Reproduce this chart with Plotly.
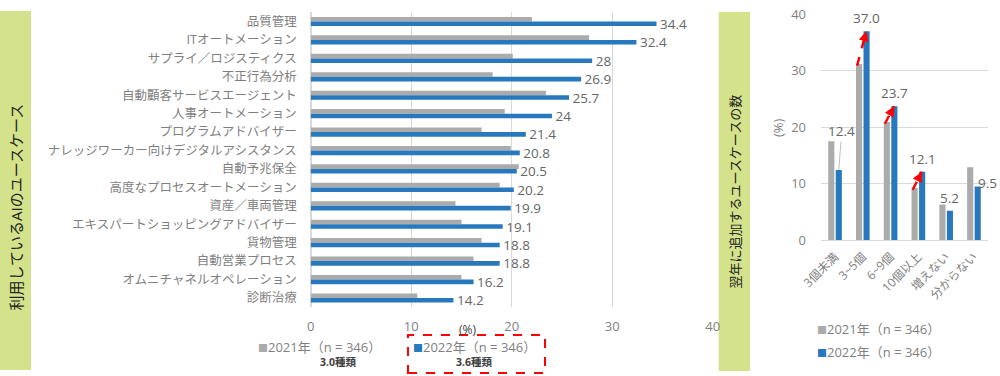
import plotly.graph_objects as go

# ---------------- data ----------------
use_categories = [
    "品質管理", "ITオートメーション", "サプライ／ロジスティクス", "不正行為分析",
    "自動顧客サービスエージェント", "人事オートメーション", "プログラムアドバイザー",
    "ナレッジワーカー向けデジタルアシスタンス", "自動予兆保全", "高度なプロセスオートメーション",
    "資産／車両管理", "エキスパートショッピングアドバイザー", "貨物管理", "自動営業プロセス",
    "オムニチャネルオペレーション", "診断治療",
]
use_2021 = [22.0, 27.7, 20.1, 18.1, 23.4, 19.3, 17.0, 19.9, 20.7, 18.8, 14.4, 15.0, 17.0, 16.2, 15.0, 10.6]
use_2022 = [34.4, 32.4, 28, 26.9, 25.7, 24, 21.4, 20.8, 20.5, 20.2, 19.9, 19.1, 18.8, 18.8, 16.2, 14.2]
use_x_ticks = [0, 10, 20, 30, 40]

count_categories = ["3個未満", "3~5個", "6~9個", "10個以上", "増えない", "分からない"]
count_2021 = [17.5, 31.2, 20.9, 9.2, 6.3, 12.9]
count_2022 = [12.4, 37.0, 23.7, 12.1, 5.2, 9.5]
count_y_ticks = [0, 10, 20, 30, 40]
growth_idx = [1, 2, 3]

series_names = ["2021年（n = 346）", "2022年（n = 346）"]
avg_types = ["3.0種類", "3.6種類"]
left_title = "利用しているAIのユースケース"
right_title = "翌年に追加するユースケースの数"
unit = "(%)"

# ---------------- style ----------------
GRAY = "#ABABAB"
BLUE = "#2878BE"
GREEN = "#D4E38B"
TXT = "#7F7F7F"
VAL = "#666666"
GRID = "#D9D9D9"
FONT = "Open Sans, Noto Sans CJK JP, sans-serif"

W, H = 1000, 376


def px(x):
    return x / W


def py(y):
    return 1 - y / H


def paper_text(x, y, text, size, color, angle=0, xanchor="center", yanchor="middle"):
    return dict(xref="paper", yref="paper", x=px(x), y=py(y), text=text, textangle=angle,
                xanchor=xanchor, yanchor=yanchor, showarrow=False,
                font=dict(size=size, color=color, family=FONT))


fig = go.Figure()

# left chart
fig.add_trace(go.Bar(
    y=use_categories, x=use_2021, orientation="h", marker=dict(color=GRAY, line=dict(width=0)),
    xaxis="x", yaxis="y", showlegend=False, name=series_names[0], hoverinfo="x+y",
))
fig.add_trace(go.Bar(
    y=use_categories, x=use_2022, orientation="h", marker=dict(color=BLUE, line=dict(width=0)),
    text=[" " + f"{v:g}" for v in use_2022], textposition="outside", constraintext="none",
    textfont=dict(size=13.5, color=VAL, family=FONT), cliponaxis=False,
    xaxis="x", yaxis="y", showlegend=False, name=series_names[1], hoverinfo="x+y",
))

# right chart
xs = list(range(len(count_categories)))
fig.add_trace(go.Bar(
    x=xs, y=count_2021, width=0.22, offset=-0.24, marker=dict(color=GRAY, line=dict(width=0)),
    xaxis="x2", yaxis="y2", name=series_names[0], showlegend=False,
))
fig.add_trace(go.Bar(
    x=xs, y=count_2022, width=0.22, offset=0.03, marker=dict(color=BLUE, line=dict(width=0)),
    xaxis="x2", yaxis="y2", name=series_names[1], showlegend=False,
))

annotations = []
shapes = []

# green side boxes
shapes.append(dict(type="rect", xref="paper", yref="paper", x0=0, x1=px(31), y0=py(370), y1=py(11),
                   fillcolor=GREEN, line=dict(width=0), layer="below"))
shapes.append(dict(type="rect", xref="paper", yref="paper", x0=px(718.7), x1=px(750), y0=py(371), y1=py(12),
                   fillcolor=GREEN, line=dict(width=0), layer="below"))
annotations.append(paper_text(15.5, 207, left_title, 15, "#222222", angle=-90))
annotations.append(paper_text(734.5, 192, right_title, 13, "#222222", angle=-90))

# unit labels
annotations.append(paper_text(467, 329, unit, 12, "#404040"))
annotations.append(paper_text(778, 128, unit, 13, TXT, angle=-90))

# left legend (custom, horizontal)
leg_x = [256, 411]
for k, (nm, col) in enumerate(zip(series_names, [GRAY, BLUE])):
    annotations.append(paper_text(leg_x[k], 346.5,
                                  f'<span style="color:{col};font-size:10px">■</span>{nm}',
                                  13, TXT, xanchor="left"))
avg_x = [338, 474]
for k, t in enumerate(avg_types):
    annotations.append(paper_text(avg_x[k], 362, f"<b>{t}</b>", 10.5, "#404040"))
shapes.append(dict(type="rect", xref="paper", yref="paper", x0=px(408), x1=px(545), y0=py(373), y1=py(335),
                   line=dict(color="#FF0000", width=2, dash="dash"), fillcolor="rgba(0,0,0,0)"))

# right legend (custom, vertical)
rleg_y = [329, 352]
for k, (nm, col) in enumerate(zip(series_names, [GRAY, BLUE])):
    annotations.append(paper_text(815, rleg_y[k],
                                  f'<span style="color:{col};font-size:10px">■</span>{nm}',
                                  13, TXT, xanchor="left"))

# right value labels
BC = 0.14  # blue bar centre offset
for i, v in enumerate(count_2022):
    lab = f"{v:.1f}"
    if i == 0:
        annotations.append(dict(xref="x2", yref="y2", x=i + BC, y=v, text=lab, showarrow=True, arrowhead=0,
                                arrowwidth=1, arrowcolor="#BFBFBF", ax=3, ay=-39, standoff=0,
                                font=dict(size=13.5, color=VAL, family=FONT)))
    elif i == len(count_2022) - 1:
        annotations.append(dict(xref="x2", yref="y2", x=i + BC, y=v, text=lab, showarrow=False,
                                xanchor="left", yanchor="middle", xshift=-2, yshift=3,
                                font=dict(size=13.5, color=VAL, family=FONT)))
    else:
        annotations.append(dict(xref="x2", yref="y2", x=i + BC, y=v, text=lab, showarrow=False,
                                xanchor="center", yanchor="bottom", yshift=2,
                                font=dict(size=13.5, color=VAL, family=FONT)))

# red growth arrows
for i in growth_idx:
    x0, y0 = i - 0.2, count_2021[i] - 0.3
    x1, y1 = i + BC - 0.01, count_2022[i]
    shapes.append(dict(type="line", xref="x2", yref="y2", x0=x0, y0=y0, x1=x1, y1=y1,
                       line=dict(color="#FF0000", width=2.5, dash="dash")))
    annotations.append(dict(xref="x2", yref="y2", x=x1, y=y1, axref="x2", ayref="y2",
                            ax=x0 + 0.7 * (x1 - x0), ay=y0 + 0.7 * (y1 - y0), text="", showarrow=True,
                            arrowhead=2, arrowsize=0.8, arrowwidth=2.5, arrowcolor="#FF0000", standoff=0))

fig.update_layout(
    width=W, height=H, autosize=False,
    margin=dict(l=0, r=0, t=0, b=0),
    paper_bgcolor="white", plot_bgcolor="white",
    font=dict(family=FONT, color=TXT, size=13),
    barmode="group", bargap=0.5, bargroupgap=0,
    showlegend=False,
    xaxis=dict(domain=[px(310.7), px(712.8)], range=[0, 40], tickvals=use_x_ticks,
               showgrid=True, gridcolor=GRID, gridwidth=1, zeroline=True, zerolinecolor=GRID,
               showline=False, ticks="", tickfont=dict(size=13, color=TXT), ticklabelstandoff=10,
               anchor="y", automargin=False, fixedrange=True),
    yaxis=dict(domain=[py(307.2), py(12.3)], type="category", range=[len(use_categories) - 0.5, -0.5],
               showgrid=False, zeroline=False, showline=False, ticks="",
               tickfont=dict(size=12.5, color=TXT), ticklabelstandoff=13,
               anchor="x", automargin=False, fixedrange=True),
    xaxis2=dict(domain=[px(821), px(987.7)], range=[-0.5, len(count_categories) - 0.5],
                tickvals=xs, ticktext=count_categories, tickangle=-45, showgrid=False, zeroline=False,
                showline=True, linecolor=GRID, linewidth=1, ticks="",
                tickfont=dict(size=12, color=TXT), ticklabelstandoff=4,
                anchor="y2", automargin=False, fixedrange=True),
    yaxis2=dict(domain=[py(240), py(14.3)], range=[0, 40], tickvals=count_y_ticks,
                showgrid=True, gridcolor=GRID, zeroline=False, showline=False, ticks="",
                tickfont=dict(size=13, color=TXT), ticklabelstandoff=14,
                anchor="x2", automargin=False, fixedrange=True),
    annotations=annotations,
    shapes=shapes,
)

fig.write_html(
    "out.html",
    config={"displayModeBar": False},
    post_script="document.body.style.margin='0';document.body.style.padding='0';",
)
